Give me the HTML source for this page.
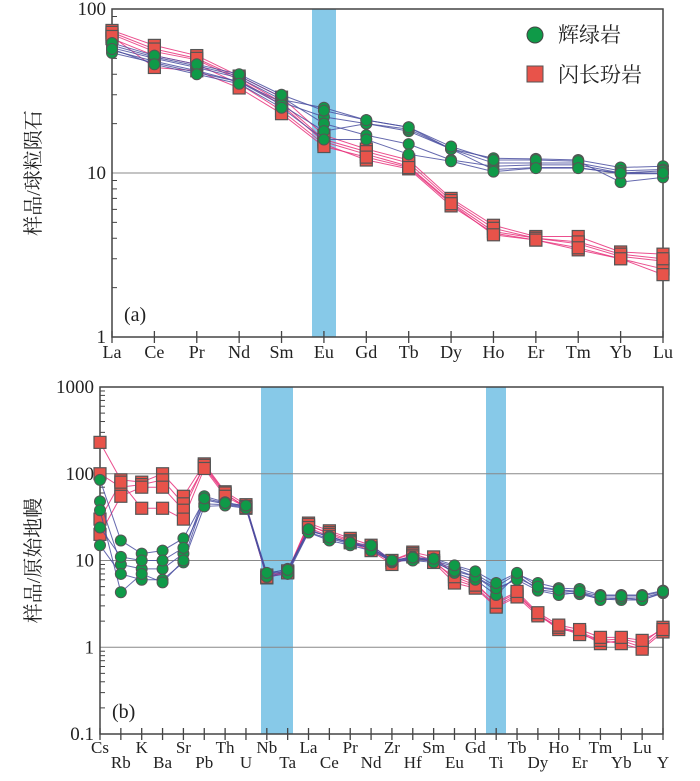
<!DOCTYPE html>
<html><head><meta charset="utf-8"><style>
body{margin:0;background:#fff}
svg text{font-family:"Liberation Serif","Noto Serif CJK SC",serif;fill:#222}
</style></head><body>
<svg id="c" width="700" height="776" xmlns="http://www.w3.org/2000/svg"></svg>
<script>
const reeLabels=["La","Ce","Pr","Nd","Sm","Eu","Gd","Tb","Dy","Ho","Er","Tm","Yb","Lu"];
const gabA=[
[58,50,44,38,28,25,21,19,14,12.3,12.2,12,10.8,11],
[56,48,42,36,27,22,20,18,14,11.5,11.5,11.5,10.3,10.5],
[60,51,45,39,29,20,17,15,12,11,11.2,11.2,10,10.3],
[54,47,41,36,26,18,20,18.5,14,10.5,10.8,10.8,9.9,9.9],
[62,52,46,40,30,24,21,19,14.5,12,12,11.8,8.8,9.4],
[57,46,40,35,25,16,16,13,11.8,10.2,10.7,10.7,10,10]];
const dioA=[
[74,60,52,39,29,17,14,12,7,4.8,4.1,4.1,3.3,3.2],
[70,55,49,37,26,15.5,13,11,6.6,4.4,4,3.7,3.1,2.9],
[66,52,46,35,24,15,12,10.6,6.3,4.3,3.9,3.4,3,2.6],
[72,57,50,38,27,16,13.5,11.5,6.8,4.6,4,3.8,3.2,3],
[68,44,42,33,23,14.5,12.5,10.8,6.5,4.2,3.9,3.5,3,2.4]];
const spLabels=["Cs","Rb","K","Ba","Sr","Pb","Th","U","Nb","Ta","La","Ce","Pr","Nd","Zr","Hf","Sm","Eu","Gd","Ti","Tb","Dy","Ho","Er","Tm","Yb","Lu","Y"];
const gabB=[
[85,17,12,13,18,50,45,42,7,8,22,19,16,14,10,11,10,8.5,7,5,7,5.5,4.8,4.7,4,4,4,4.5],
[48,9,8,8,12,55,47,42,6.5,7.5,21,18,15.5,14,9.5,10.5,9.8,8,6.5,4.5,6.3,4.9,4.5,4.3,3.7,3.7,3.7,4.3],
[24,11,10,10,14,45,44,41,7,7.5,22,19,16,14,10,10.5,10,7.2,6,4,6.8,4.6,4.3,4.1,3.6,3.5,3.5,4.2],
[15,7,6,6,9.5,42,43,40,6.5,7,21,17,15,13,9.8,10,9.5,7.6,6.5,4.8,6,4.5,4,4.3,3.5,3.7,3.5,4.3],
[38,4.3,7,5.6,10,52,46,43,7.2,7.8,23,18.5,16,15,10,10.8,10.5,8.8,7.5,5.5,7.2,5,4.6,4.4,3.9,3.9,3.9,4.4]];
const dioB=[
[230,85,80,100,55,130,62,44,6.5,7.5,27,22,18,15,10,12.5,11,7,5.5,3.2,4.2,2.4,1.7,1.5,1.2,1.25,1.1,1.7],
[100,70,75,85,45,120,58,42,6.3,7.3,25,21,17,14,10,12,10,6,5,3,4,2.4,1.6,1.5,1.1,1.2,1.0,1.6],
[20,55,70,70,38,125,60,40,6.8,7.6,26,20,16.5,13.5,9.5,11.5,9.5,5.5,4.8,2.9,3.8,2.3,1.7,1.4,1.2,1.1,0.95,1.5],
[30,80,40,40,30,115,55,41,6.4,7.2,24,19,16,13,9,11,9.5,6.5,5.2,3.3,4.4,2.5,1.8,1.6,1.3,1.3,1.2,1.6]];

const svg=document.getElementById('c');const NS="http://www.w3.org/2000/svg";
function mk(t,a,p,name){const e=document.createElementNS(NS,t);for(const k in a)e.setAttribute(k,a[k]);


(p||svg).appendChild(e);return e;}
function panel(o){
 const g=mk('g',{},svg,o.name);
 const xs=i=>o.x0+i*(o.x1-o.x0)/(o.labels.length-1);
 const ys=v=>o.yb-(Math.log10(v)-o.lmin)*(o.yb-o.yt)/(o.lmax-o.lmin);
 o.bands.forEach(b=>{mk('rect',{x:b[0],y:o.yt,width:b[1]-b[0],height:o.yb-o.yt,fill:'#87c9e8'},g,'highlight-band');});
 for(let d=o.lmin+1;d<o.lmax;d++){mk('line',{x1:o.x0,x2:o.x1,y1:ys(10**d),y2:ys(10**d),stroke:'#888','stroke-width':1},g,'gridline');}
 mk('rect',{x:o.x0,y:o.yt,width:o.x1-o.x0,height:o.yb-o.yt,fill:'none',stroke:'#444','stroke-width':1.5},g,'plot-frame');
 for(let d=o.lmin;d<=o.lmax;d++){
  const t=mk('text',{x:o.x0-6,y:ys(10**d)+6,'text-anchor':'end','font-size':19},g,'y-tick-label');t.textContent=String(10**d>=1?10**d:0.1);
  if(d<o.lmax)for(let m=2;m<10;m++){const y=ys(m*10**d);mk('line',{x1:o.x0,x2:o.x0+5,y1:y,y2:y,stroke:'#444'},g,'y-minor-tick');}
 }
 o.labels.forEach((l,i)=>{const x=xs(i);mk('line',{x1:x,x2:x,y1:o.yb-6,y2:o.yb+6,stroke:'#444','stroke-width':1.3},g,'x-tick');
  const alt=o.alt&&i%2==1;const t=mk('text',{x:x,y:o.yb+(alt?34:19)+(o.alt?0:2),'text-anchor':'middle','font-size':o.alt?17:18},g,'x-tick-label');t.textContent=l;});
 const draw=(set,col,mark)=>{set.forEach(s=>{mk('polyline',{points:s.map((v,i)=>xs(i)+','+ys(v)).join(' '),fill:'none',stroke:col,'stroke-width':1,opacity:.85},g,'series-line');});
  set.forEach(s=>s.forEach((v,i)=>{if(mark=='c')mk('circle',{cx:xs(i),cy:ys(v),r:5.5,fill:'#0f9a48',stroke:'#555','stroke-width':1},g,'gabbro-point');
   else mk('rect',{x:xs(i)-6,y:ys(v)-6,width:12,height:12,fill:'#e8534a',stroke:'#555','stroke-width':1.2},g,'diorite-point');}));};
 draw(o.red,'#e8307a','s');draw(o.green,'#4a4fa0','c');
 const t=mk('text',{x:o.x0+12,y:o.yb-16,'font-size':20},g,'panel-label');t.textContent=o.tag;
 const yt=mk('text',{transform:`translate(40,${(o.yt+o.yb)/2}) rotate(-90)`,'text-anchor':'middle','font-size':20},g,'y-axis-title');yt.textContent=o.ytitle;
}
panel({name:'panel-a',x0:112,x1:663,yt:9,yb:337,lmin:0,lmax:2,labels:reeLabels,green:gabA,red:dioA,bands:[[312,336]],tag:'(a)',ytitle:'样品/球粒陨石'});
panel({name:'panel-b',x0:100,x1:663,yt:387,yb:734,lmin:-1,lmax:3,labels:spLabels,green:gabB,red:dioB,bands:[[261,293],[486,506]],tag:'(b)',ytitle:'样品/原始地幔',alt:true});
const lg=mk('g',{},svg,'legend');
mk('circle',{cx:535,cy:35,r:8,fill:'#0f9a48',stroke:'#444'},lg,'legend-gabbro-marker');
let t=mk('text',{x:558,y:42,'font-size':21},lg,'legend-gabbro-label');t.textContent='辉绿岩';
mk('rect',{x:527,y:66,width:16,height:16,fill:'#e8534a',stroke:'#555'},lg,'legend-diorite-marker');
t=mk('text',{x:558,y:82,'font-size':21},lg,'legend-diorite-label');t.textContent='闪长玢岩';
</script>
</body></html>
